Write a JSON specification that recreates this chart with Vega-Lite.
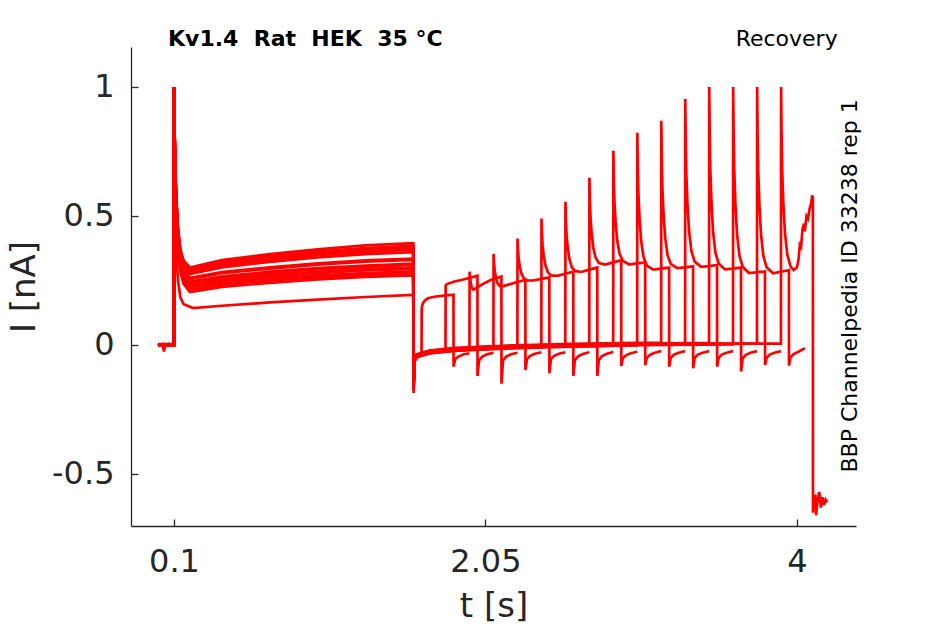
{
  "$schema": "https://vega.github.io/schema/vega-lite/v6.json",
  "width": 725,
  "height": 479,
  "autosize": "none",
  "padding": {"left": 131, "top": 47, "right": 89, "bottom": 98},
  "background": "white",
  "config": {"view": {"stroke": null}, "font": "DejaVu Sans"},
  "data": {"values": [
    {"k":0,"t":0,"v":0.004},{"k":0,"t":0.035,"v":-0.004},{"k":0,"t":0.07,"v":0.002},{"k":0,"t":0.0995,"v":0},
    {"k":0,"t":0.101,"v":1},{"k":0,"t":0.104,"v":0.75},{"k":0,"t":0.108,"v":0.53},{"k":0,"t":0.115,"v":0.36},{"k":0,"t":0.125,"v":0.25},{"k":0,"t":0.14,"v":0.185},{"k":0,"t":0.16,"v":0.158},{"k":0,"t":0.22,"v":0.143},{"k":0,"t":0.4,"v":0.152},{"k":0,"t":0.7,"v":0.165},{"k":0,"t":1.0,"v":0.176},{"k":0,"t":1.3,"v":0.186},{"k":0,"t":1.598,"v":0.194},
    {"k":0,"t":1.6005,"v":-0.13},{"k":0,"t":1.605,"v":-0.06},{"k":0,"t":1.62,"v":-0.042},{"k":0,"t":1.65,"v":-0.036},
    {"k":0,"t":1.651,"v":0.143},{"k":0,"t":1.655,"v":0.155},{"k":0,"t":1.66,"v":0.163},{"k":0,"t":1.67,"v":0.172},{"k":0,"t":1.69,"v":0.181},{"k":0,"t":1.73,"v":0.187},{"k":0,"t":1.79,"v":0.191},{"k":0,"t":1.85,"v":0.195},{"k":0,"t":1.8505,"v":-0.084},{"k":0,"t":1.86,"v":-0.055},{"k":0,"t":1.88,"v":-0.045},{"k":0,"t":1.91,"v":-0.037},{"k":0,"t":1.95,"v":-0.032},

    {"k":1,"t":0,"v":0.002},{"k":1,"t":0.035,"v":0.003},{"k":1,"t":0.07,"v":-0.002},{"k":1,"t":0.0995,"v":0.001},
    {"k":1,"t":0.101,"v":1},{"k":1,"t":0.104,"v":0.811},{"k":1,"t":0.108,"v":0.66},{"k":1,"t":0.115,"v":0.532},{"k":1,"t":0.125,"v":0.411},{"k":1,"t":0.14,"v":0.321},{"k":1,"t":0.16,"v":0.275},{"k":1,"t":0.2,"v":0.245},{"k":1,"t":0.4,"v":0.266},{"k":1,"t":0.7,"v":0.284},{"k":1,"t":1.0,"v":0.298},{"k":1,"t":1.3,"v":0.308},{"k":1,"t":1.598,"v":0.315},
    {"k":1,"t":1.6005,"v":-0.16},{"k":1,"t":1.605,"v":-0.057},{"k":1,"t":1.62,"v":-0.039},{"k":1,"t":1.7,"v":-0.025},{"k":1,"t":1.8,"v":-0.017},
    {"k":1,"t":1.801,"v":0.232},{"k":1,"t":1.81,"v":0.236},{"k":1,"t":1.85,"v":0.245},{"k":1,"t":1.9,"v":0.252},{"k":1,"t":1.95,"v":0.26},{"k":1,"t":2.0,"v":0.268},{"k":1,"t":2.0005,"v":-0.12},{"k":1,"t":2.01,"v":-0.06},{"k":1,"t":2.03,"v":-0.045},{"k":1,"t":2.06,"v":-0.036},{"k":1,"t":2.1,"v":-0.03},

    {"k":2,"t":0,"v":0.003},{"k":2,"t":0.035,"v":-0.002},{"k":2,"t":0.07,"v":0.003},{"k":2,"t":0.0995,"v":0},
    {"k":2,"t":0.101,"v":1},{"k":2,"t":0.104,"v":0.81},{"k":2,"t":0.108,"v":0.658},{"k":2,"t":0.115,"v":0.529},{"k":2,"t":0.125,"v":0.407},{"k":2,"t":0.14,"v":0.316},{"k":2,"t":0.16,"v":0.27},{"k":2,"t":0.2,"v":0.24},{"k":2,"t":0.4,"v":0.261},{"k":2,"t":0.7,"v":0.279},{"k":2,"t":1.0,"v":0.293},{"k":2,"t":1.3,"v":0.303},{"k":2,"t":1.598,"v":0.31},
    {"k":2,"t":1.6005,"v":-0.15},{"k":2,"t":1.605,"v":-0.063},{"k":2,"t":1.62,"v":-0.045},{"k":2,"t":1.7,"v":-0.031},{"k":2,"t":1.85,"v":-0.021},{"k":2,"t":1.95,"v":-0.017},
    {"k":2,"t":1.951,"v":0.284},{"k":2,"t":1.954,"v":0.26},{"k":2,"t":1.958,"v":0.24},{"k":2,"t":1.965,"v":0.222},{"k":2,"t":1.975,"v":0.214},{"k":2,"t":1.99,"v":0.22},{"k":2,"t":2.03,"v":0.235},{"k":2,"t":2.07,"v":0.248},{"k":2,"t":2.1,"v":0.256},{"k":2,"t":2.15,"v":0.265},{"k":2,"t":2.1505,"v":-0.15},{"k":2,"t":2.16,"v":-0.06},{"k":2,"t":2.18,"v":-0.045},{"k":2,"t":2.21,"v":-0.036},{"k":2,"t":2.25,"v":-0.03},

    {"k":3,"t":0,"v":0.001},{"k":3,"t":0.03,"v":0.001},{"k":3,"t":0.037,"v":-0.025},{"k":3,"t":0.044,"v":-0.002},{"k":3,"t":0.07,"v":0.002},{"k":3,"t":0.0995,"v":0},
    {"k":3,"t":0.101,"v":1},{"k":3,"t":0.104,"v":0.815},{"k":3,"t":0.108,"v":0.667},{"k":3,"t":0.115,"v":0.541},{"k":3,"t":0.125,"v":0.423},{"k":3,"t":0.14,"v":0.334},{"k":3,"t":0.16,"v":0.29},{"k":3,"t":0.2,"v":0.26},{"k":3,"t":0.4,"v":0.283},{"k":3,"t":0.7,"v":0.301},{"k":3,"t":1.0,"v":0.316},{"k":3,"t":1.3,"v":0.328},{"k":3,"t":1.598,"v":0.335},
    {"k":3,"t":1.6005,"v":-0.186},{"k":3,"t":1.605,"v":-0.06},{"k":3,"t":1.62,"v":-0.042},{"k":3,"t":1.7,"v":-0.028},{"k":3,"t":1.85,"v":-0.018},{"k":3,"t":2.05,"v":-0.012},{"k":3,"t":2.1,"v":-0.01},
    {"k":3,"t":2.101,"v":0.353},{"k":3,"t":2.104,"v":0.32},{"k":3,"t":2.108,"v":0.29},{"k":3,"t":2.115,"v":0.263},{"k":3,"t":2.125,"v":0.24},{"k":3,"t":2.14,"v":0.228},{"k":3,"t":2.16,"v":0.228},{"k":3,"t":2.2,"v":0.235},{"k":3,"t":2.25,"v":0.244},{"k":3,"t":2.3,"v":0.252},{"k":3,"t":2.3005,"v":-0.097},{"k":3,"t":2.31,"v":-0.055},{"k":3,"t":2.33,"v":-0.042},{"k":3,"t":2.36,"v":-0.034},{"k":3,"t":2.4,"v":-0.028},

    {"k":4,"t":0,"v":-0.002},{"k":4,"t":0.035,"v":0.002},{"k":4,"t":0.07,"v":0.004},{"k":4,"t":0.0995,"v":0},
    {"k":4,"t":0.101,"v":1},{"k":4,"t":0.104,"v":0.814},{"k":4,"t":0.108,"v":0.665},{"k":4,"t":0.115,"v":0.538},{"k":4,"t":0.125,"v":0.419},{"k":4,"t":0.14,"v":0.33},{"k":4,"t":0.16,"v":0.285},{"k":4,"t":0.2,"v":0.255},{"k":4,"t":0.4,"v":0.278},{"k":4,"t":0.7,"v":0.296},{"k":4,"t":1.0,"v":0.311},{"k":4,"t":1.3,"v":0.323},{"k":4,"t":1.598,"v":0.33},
    {"k":4,"t":1.6005,"v":-0.14},{"k":4,"t":1.605,"v":-0.055},{"k":4,"t":1.62,"v":-0.037},{"k":4,"t":1.7,"v":-0.023},{"k":4,"t":1.85,"v":-0.013},{"k":4,"t":2.05,"v":-0.007},{"k":4,"t":2.25,"v":-0.002},
    {"k":4,"t":2.251,"v":0.413},{"k":4,"t":2.254,"v":0.37},{"k":4,"t":2.258,"v":0.335},{"k":4,"t":2.265,"v":0.305},{"k":4,"t":2.275,"v":0.278},{"k":4,"t":2.29,"v":0.258},{"k":4,"t":2.31,"v":0.25},{"k":4,"t":2.35,"v":0.25},{"k":4,"t":2.4,"v":0.256},{"k":4,"t":2.45,"v":0.262},{"k":4,"t":2.4505,"v":-0.11},{"k":4,"t":2.46,"v":-0.055},{"k":4,"t":2.48,"v":-0.042},{"k":4,"t":2.51,"v":-0.034},{"k":4,"t":2.55,"v":-0.028},

    {"k":5,"t":0,"v":0.003},{"k":5,"t":0.035,"v":0},{"k":5,"t":0.07,"v":-0.003},{"k":5,"t":0.0995,"v":0},
    {"k":5,"t":0.101,"v":1},{"k":5,"t":0.104,"v":0.825},{"k":5,"t":0.108,"v":0.685},{"k":5,"t":0.115,"v":0.566},{"k":5,"t":0.125,"v":0.454},{"k":5,"t":0.14,"v":0.37},{"k":5,"t":0.16,"v":0.328},{"k":5,"t":0.2,"v":0.3},{"k":5,"t":0.4,"v":0.329},{"k":5,"t":0.7,"v":0.352},{"k":5,"t":1.0,"v":0.371},{"k":5,"t":1.3,"v":0.386},{"k":5,"t":1.598,"v":0.395},
    {"k":5,"t":1.6005,"v":-0.17},{"k":5,"t":1.605,"v":-0.065},{"k":5,"t":1.62,"v":-0.047},{"k":5,"t":1.7,"v":-0.033},{"k":5,"t":1.85,"v":-0.023},{"k":5,"t":2.05,"v":-0.017},{"k":5,"t":2.3,"v":-0.011},{"k":5,"t":2.4,"v":-0.01},
    {"k":5,"t":2.401,"v":0.49},{"k":5,"t":2.404,"v":0.432},{"k":5,"t":2.408,"v":0.386},{"k":5,"t":2.415,"v":0.347},{"k":5,"t":2.425,"v":0.31},{"k":5,"t":2.44,"v":0.283},{"k":5,"t":2.46,"v":0.27},{"k":5,"t":2.5,"v":0.268},{"k":5,"t":2.55,"v":0.276},{"k":5,"t":2.6,"v":0.284},{"k":5,"t":2.6005,"v":-0.12},{"k":5,"t":2.61,"v":-0.058},{"k":5,"t":2.63,"v":-0.044},{"k":5,"t":2.66,"v":-0.035},{"k":5,"t":2.7,"v":-0.028},

    {"k":6,"t":0,"v":0},{"k":6,"t":0.035,"v":0.003},{"k":6,"t":0.07,"v":0},{"k":6,"t":0.0995,"v":0.002},
    {"k":6,"t":0.101,"v":1},{"k":6,"t":0.104,"v":0.809},{"k":6,"t":0.108,"v":0.656},{"k":6,"t":0.115,"v":0.526},{"k":6,"t":0.125,"v":0.403},{"k":6,"t":0.14,"v":0.312},{"k":6,"t":0.16,"v":0.266},{"k":6,"t":0.2,"v":0.235},{"k":6,"t":0.4,"v":0.255},{"k":6,"t":0.7,"v":0.271},{"k":6,"t":1.0,"v":0.284},{"k":6,"t":1.3,"v":0.294},{"k":6,"t":1.598,"v":0.3},
    {"k":6,"t":1.6005,"v":-0.155},{"k":6,"t":1.605,"v":-0.058},{"k":6,"t":1.62,"v":-0.04},{"k":6,"t":1.7,"v":-0.026},{"k":6,"t":1.85,"v":-0.016},{"k":6,"t":2.05,"v":-0.01},{"k":6,"t":2.3,"v":-0.004},{"k":6,"t":2.55,"v":-0.001},
    {"k":6,"t":2.551,"v":0.555},{"k":6,"t":2.554,"v":0.484},{"k":6,"t":2.558,"v":0.427},{"k":6,"t":2.565,"v":0.38},{"k":6,"t":2.575,"v":0.335},{"k":6,"t":2.59,"v":0.302},{"k":6,"t":2.61,"v":0.287},{"k":6,"t":2.65,"v":0.283},{"k":6,"t":2.7,"v":0.292},{"k":6,"t":2.75,"v":0.3},{"k":6,"t":2.7505,"v":-0.12},{"k":6,"t":2.76,"v":-0.058},{"k":6,"t":2.78,"v":-0.043},{"k":6,"t":2.81,"v":-0.034},{"k":6,"t":2.85,"v":-0.027},

    {"k":7,"t":0,"v":0.002},{"k":7,"t":0.035,"v":-0.003},{"k":7,"t":0.07,"v":0.001},{"k":7,"t":0.0995,"v":0},
    {"k":7,"t":0.101,"v":1},{"k":7,"t":0.104,"v":0.824},{"k":7,"t":0.108,"v":0.683},{"k":7,"t":0.115,"v":0.563},{"k":7,"t":0.125,"v":0.45},{"k":7,"t":0.14,"v":0.366},{"k":7,"t":0.16,"v":0.323},{"k":7,"t":0.2,"v":0.295},{"k":7,"t":0.4,"v":0.322},{"k":7,"t":0.7,"v":0.345},{"k":7,"t":1.0,"v":0.363},{"k":7,"t":1.3,"v":0.376},{"k":7,"t":1.598,"v":0.385},
    {"k":7,"t":1.6005,"v":-0.165},{"k":7,"t":1.605,"v":-0.062},{"k":7,"t":1.62,"v":-0.044},{"k":7,"t":1.7,"v":-0.03},{"k":7,"t":1.85,"v":-0.02},{"k":7,"t":2.05,"v":-0.014},{"k":7,"t":2.3,"v":-0.008},{"k":7,"t":2.6,"v":-0.004},{"k":7,"t":2.7,"v":-0.003},
    {"k":7,"t":2.701,"v":0.648},{"k":7,"t":2.704,"v":0.561},{"k":7,"t":2.708,"v":0.491},{"k":7,"t":2.715,"v":0.433},{"k":7,"t":2.725,"v":0.378},{"k":7,"t":2.74,"v":0.338},{"k":7,"t":2.76,"v":0.318},{"k":7,"t":2.8,"v":0.312},{"k":7,"t":2.85,"v":0.32},{"k":7,"t":2.9,"v":0.328},{"k":7,"t":2.9005,"v":-0.081},{"k":7,"t":2.91,"v":-0.052},{"k":7,"t":2.93,"v":-0.04},{"k":7,"t":2.96,"v":-0.032},{"k":7,"t":3.0,"v":-0.026},

    {"k":8,"t":0,"v":-0.001},{"k":8,"t":0.035,"v":0.002},{"k":8,"t":0.07,"v":0.003},{"k":8,"t":0.0995,"v":0},
    {"k":8,"t":0.101,"v":1},{"k":8,"t":0.104,"v":0.808},{"k":8,"t":0.108,"v":0.654},{"k":8,"t":0.115,"v":0.523},{"k":8,"t":0.125,"v":0.399},{"k":8,"t":0.14,"v":0.307},{"k":8,"t":0.16,"v":0.261},{"k":8,"t":0.2,"v":0.23},{"k":8,"t":0.4,"v":0.25},{"k":8,"t":0.7,"v":0.266},{"k":8,"t":1.0,"v":0.279},{"k":8,"t":1.3,"v":0.289},{"k":8,"t":1.598,"v":0.295},
    {"k":8,"t":1.6005,"v":-0.145},{"k":8,"t":1.605,"v":-0.056},{"k":8,"t":1.62,"v":-0.038},{"k":8,"t":1.7,"v":-0.024},{"k":8,"t":1.85,"v":-0.014},{"k":8,"t":2.05,"v":-0.008},{"k":8,"t":2.3,"v":-0.002},{"k":8,"t":2.6,"v":0.002},{"k":8,"t":2.85,"v":0.004},
    {"k":8,"t":2.851,"v":0.753},{"k":8,"t":2.854,"v":0.641},{"k":8,"t":2.858,"v":0.552},{"k":8,"t":2.865,"v":0.477},{"k":8,"t":2.875,"v":0.405},{"k":8,"t":2.89,"v":0.353},{"k":8,"t":2.91,"v":0.326},{"k":8,"t":2.95,"v":0.312},{"k":8,"t":3.0,"v":0.316},{"k":8,"t":3.05,"v":0.32},{"k":8,"t":3.0505,"v":-0.078},{"k":8,"t":3.06,"v":-0.05},{"k":8,"t":3.08,"v":-0.038},{"k":8,"t":3.11,"v":-0.03},{"k":8,"t":3.15,"v":-0.024},

    {"k":9,"t":0,"v":0.003},{"k":9,"t":0.035,"v":0.001},{"k":9,"t":0.07,"v":-0.002},{"k":9,"t":0.0995,"v":0},
    {"k":9,"t":0.101,"v":1},{"k":9,"t":0.104,"v":0.823},{"k":9,"t":0.108,"v":0.681},{"k":9,"t":0.115,"v":0.56},{"k":9,"t":0.125,"v":0.446},{"k":9,"t":0.14,"v":0.361},{"k":9,"t":0.16,"v":0.318},{"k":9,"t":0.2,"v":0.29},{"k":9,"t":0.4,"v":0.317},{"k":9,"t":0.7,"v":0.34},{"k":9,"t":1.0,"v":0.358},{"k":9,"t":1.3,"v":0.371},{"k":9,"t":1.598,"v":0.38},
    {"k":9,"t":1.6005,"v":-0.175},{"k":9,"t":1.605,"v":-0.064},{"k":9,"t":1.62,"v":-0.046},{"k":9,"t":1.7,"v":-0.032},{"k":9,"t":1.85,"v":-0.022},{"k":9,"t":2.05,"v":-0.016},{"k":9,"t":2.3,"v":-0.01},{"k":9,"t":2.6,"v":-0.006},{"k":9,"t":3.0,"v":-0.002},
    {"k":9,"t":3.001,"v":0.823},{"k":9,"t":3.004,"v":0.689},{"k":9,"t":3.008,"v":0.581},{"k":9,"t":3.015,"v":0.49},{"k":9,"t":3.025,"v":0.404},{"k":9,"t":3.04,"v":0.34},{"k":9,"t":3.06,"v":0.308},{"k":9,"t":3.1,"v":0.292},{"k":9,"t":3.15,"v":0.296},{"k":9,"t":3.2,"v":0.3},{"k":9,"t":3.2005,"v":-0.084},{"k":9,"t":3.21,"v":-0.05},{"k":9,"t":3.23,"v":-0.037},{"k":9,"t":3.26,"v":-0.03},{"k":9,"t":3.3,"v":-0.024},

    {"k":10,"t":0,"v":0.001},{"k":10,"t":0.035,"v":0.004},{"k":10,"t":0.07,"v":0},{"k":10,"t":0.0995,"v":0},
    {"k":10,"t":0.101,"v":1},{"k":10,"t":0.104,"v":0.806},{"k":10,"t":0.108,"v":0.651},{"k":10,"t":0.115,"v":0.52},{"k":10,"t":0.125,"v":0.396},{"k":10,"t":0.14,"v":0.303},{"k":10,"t":0.16,"v":0.256},{"k":10,"t":0.2,"v":0.225},{"k":10,"t":0.4,"v":0.243},{"k":10,"t":0.7,"v":0.258},{"k":10,"t":1.0,"v":0.27},{"k":10,"t":1.3,"v":0.279},{"k":10,"t":1.598,"v":0.285},
    {"k":10,"t":1.6005,"v":-0.15},{"k":10,"t":1.605,"v":-0.054},{"k":10,"t":1.62,"v":-0.036},{"k":10,"t":1.7,"v":-0.022},{"k":10,"t":1.85,"v":-0.012},{"k":10,"t":2.05,"v":-0.006},{"k":10,"t":2.3,"v":0},{"k":10,"t":2.6,"v":0.004},{"k":10,"t":3.0,"v":0.008},{"k":10,"t":3.15,"v":0.009},
    {"k":10,"t":3.151,"v":0.869},{"k":10,"t":3.154,"v":0.724},{"k":10,"t":3.158,"v":0.608},{"k":10,"t":3.165,"v":0.51},{"k":10,"t":3.175,"v":0.418},{"k":10,"t":3.19,"v":0.349},{"k":10,"t":3.21,"v":0.314},{"k":10,"t":3.25,"v":0.298},{"k":10,"t":3.3,"v":0.301},{"k":10,"t":3.35,"v":0.305},{"k":10,"t":3.3505,"v":-0.09},{"k":10,"t":3.36,"v":-0.05},{"k":10,"t":3.38,"v":-0.037},{"k":10,"t":3.41,"v":-0.03},{"k":10,"t":3.45,"v":-0.024},

    {"k":11,"t":0,"v":0.002},{"k":11,"t":0.035,"v":-0.002},{"k":11,"t":0.07,"v":0.002},{"k":11,"t":0.0995,"v":0},
    {"k":11,"t":0.101,"v":1},{"k":11,"t":0.104,"v":0.821},{"k":11,"t":0.108,"v":0.678},{"k":11,"t":0.115,"v":0.557},{"k":11,"t":0.125,"v":0.442},{"k":11,"t":0.14,"v":0.357},{"k":11,"t":0.16,"v":0.314},{"k":11,"t":0.2,"v":0.285},{"k":11,"t":0.4,"v":0.312},{"k":11,"t":0.7,"v":0.335},{"k":11,"t":1.0,"v":0.353},{"k":11,"t":1.3,"v":0.366},{"k":11,"t":1.598,"v":0.375},
    {"k":11,"t":1.6005,"v":-0.16},{"k":11,"t":1.605,"v":-0.061},{"k":11,"t":1.62,"v":-0.043},{"k":11,"t":1.7,"v":-0.029},{"k":11,"t":1.85,"v":-0.019},{"k":11,"t":2.05,"v":-0.013},{"k":11,"t":2.3,"v":-0.007},{"k":11,"t":2.6,"v":-0.003},{"k":11,"t":3.0,"v":0.001},{"k":11,"t":3.3,"v":0.003},
    {"k":11,"t":3.301,"v":0.953},{"k":11,"t":3.304,"v":0.789},{"k":11,"t":3.308,"v":0.657},{"k":11,"t":3.315,"v":0.545},{"k":11,"t":3.325,"v":0.44},{"k":11,"t":3.34,"v":0.363},{"k":11,"t":3.36,"v":0.323},{"k":11,"t":3.4,"v":0.303},{"k":11,"t":3.45,"v":0.306},{"k":11,"t":3.5,"v":0.31},{"k":11,"t":3.5005,"v":-0.084},{"k":11,"t":3.51,"v":-0.05},{"k":11,"t":3.53,"v":-0.037},{"k":11,"t":3.56,"v":-0.03},{"k":11,"t":3.6,"v":-0.024},

    {"k":12,"t":0,"v":0},{"k":12,"t":0.035,"v":0.002},{"k":12,"t":0.07,"v":-0.001},{"k":12,"t":0.0995,"v":0},
    {"k":12,"t":0.101,"v":1},{"k":12,"t":0.104,"v":0.804},{"k":12,"t":0.108,"v":0.647},{"k":12,"t":0.115,"v":0.513},{"k":12,"t":0.125,"v":0.388},{"k":12,"t":0.14,"v":0.294},{"k":12,"t":0.16,"v":0.246},{"k":12,"t":0.2,"v":0.215},{"k":12,"t":0.4,"v":0.234},{"k":12,"t":0.7,"v":0.25},{"k":12,"t":1.0,"v":0.262},{"k":12,"t":1.3,"v":0.272},{"k":12,"t":1.598,"v":0.278},
    {"k":12,"t":1.6005,"v":-0.14},{"k":12,"t":1.605,"v":-0.057},{"k":12,"t":1.62,"v":-0.039},{"k":12,"t":1.7,"v":-0.025},{"k":12,"t":1.85,"v":-0.015},{"k":12,"t":2.05,"v":-0.009},{"k":12,"t":2.3,"v":-0.003},{"k":12,"t":2.6,"v":0.001},{"k":12,"t":3.0,"v":0.005},{"k":12,"t":3.4,"v":0.007},{"k":12,"t":3.45,"v":0.007},
    {"k":12,"t":3.451,"v":1.0},{"k":12,"t":3.454,"v":0.821},{"k":12,"t":3.458,"v":0.678},{"k":12,"t":3.465,"v":0.557},{"k":12,"t":3.475,"v":0.44},{"k":12,"t":3.49,"v":0.358},{"k":12,"t":3.51,"v":0.316},{"k":12,"t":3.55,"v":0.293},{"k":12,"t":3.6,"v":0.296},{"k":12,"t":3.65,"v":0.3},{"k":12,"t":3.6505,"v":-0.103},{"k":12,"t":3.66,"v":-0.052},{"k":12,"t":3.68,"v":-0.038},{"k":12,"t":3.71,"v":-0.03},{"k":12,"t":3.75,"v":-0.024},

    {"k":13,"t":0,"v":0.003},{"k":13,"t":0.035,"v":-0.001},{"k":13,"t":0.07,"v":0.001},{"k":13,"t":0.0995,"v":0},
    {"k":13,"t":0.101,"v":1},{"k":13,"t":0.104,"v":0.82},{"k":13,"t":0.108,"v":0.676},{"k":13,"t":0.115,"v":0.554},{"k":13,"t":0.125,"v":0.438},{"k":13,"t":0.14,"v":0.352},{"k":13,"t":0.16,"v":0.309},{"k":13,"t":0.2,"v":0.28},{"k":13,"t":0.4,"v":0.307},{"k":13,"t":0.7,"v":0.33},{"k":13,"t":1.0,"v":0.348},{"k":13,"t":1.3,"v":0.361},{"k":13,"t":1.598,"v":0.37},
    {"k":13,"t":1.6005,"v":-0.168},{"k":13,"t":1.605,"v":-0.063},{"k":13,"t":1.62,"v":-0.045},{"k":13,"t":1.7,"v":-0.031},{"k":13,"t":1.85,"v":-0.021},{"k":13,"t":2.05,"v":-0.015},{"k":13,"t":2.3,"v":-0.009},{"k":13,"t":2.6,"v":-0.005},{"k":13,"t":3.0,"v":-0.001},{"k":13,"t":3.4,"v":0.001},{"k":13,"t":3.6,"v":0.002},
    {"k":13,"t":3.601,"v":1.0},{"k":13,"t":3.604,"v":0.818},{"k":13,"t":3.608,"v":0.673},{"k":13,"t":3.615,"v":0.549},{"k":13,"t":3.625,"v":0.432},{"k":13,"t":3.64,"v":0.347},{"k":13,"t":3.66,"v":0.303},{"k":13,"t":3.7,"v":0.279},{"k":13,"t":3.75,"v":0.282},{"k":13,"t":3.8,"v":0.285},{"k":13,"t":3.8005,"v":-0.078},{"k":13,"t":3.81,"v":-0.05},{"k":13,"t":3.83,"v":-0.037},{"k":13,"t":3.86,"v":-0.03},{"k":13,"t":3.9,"v":-0.024},

    {"k":14,"t":0,"v":0.001},{"k":14,"t":0.035,"v":0.001},{"k":14,"t":0.07,"v":0.003},{"k":14,"t":0.0995,"v":0},
    {"k":14,"t":0.101,"v":1},{"k":14,"t":0.104,"v":0.801},{"k":14,"t":0.108,"v":0.642},{"k":14,"t":0.115,"v":0.507},{"k":14,"t":0.125,"v":0.38},{"k":14,"t":0.14,"v":0.285},{"k":14,"t":0.16,"v":0.237},{"k":14,"t":0.2,"v":0.205},{"k":14,"t":0.4,"v":0.225},{"k":14,"t":0.7,"v":0.241},{"k":14,"t":1.0,"v":0.254},{"k":14,"t":1.3,"v":0.264},{"k":14,"t":1.598,"v":0.27},
    {"k":14,"t":1.6005,"v":-0.135},{"k":14,"t":1.605,"v":-0.059},{"k":14,"t":1.62,"v":-0.041},{"k":14,"t":1.7,"v":-0.027},{"k":14,"t":1.85,"v":-0.017},{"k":14,"t":2.05,"v":-0.011},{"k":14,"t":2.3,"v":-0.005},{"k":14,"t":2.6,"v":-0.001},{"k":14,"t":3.0,"v":0.003},{"k":14,"t":3.4,"v":0.005},{"k":14,"t":3.75,"v":0.006},
    {"k":14,"t":3.751,"v":1.0},{"k":14,"t":3.754,"v":0.818},{"k":14,"t":3.758,"v":0.672},{"k":14,"t":3.765,"v":0.548},{"k":14,"t":3.775,"v":0.431},{"k":14,"t":3.79,"v":0.345},{"k":14,"t":3.81,"v":0.301},{"k":14,"t":3.85,"v":0.278},{"k":14,"t":3.9,"v":0.284},{"k":14,"t":3.95,"v":0.29},{"k":14,"t":3.9505,"v":-0.08},{"k":14,"t":3.96,"v":-0.048},{"k":14,"t":3.98,"v":-0.035},{"k":14,"t":4.01,"v":-0.026},{"k":14,"t":4.05,"v":-0.012},

    {"k":15,"t":0,"v":-0.001},{"k":15,"t":0.035,"v":0.002},{"k":15,"t":0.07,"v":0},{"k":15,"t":0.0995,"v":0},
    {"k":15,"t":0.101,"v":1},{"k":15,"t":0.104,"v":0.819},{"k":15,"t":0.108,"v":0.674},{"k":15,"t":0.115,"v":0.551},{"k":15,"t":0.125,"v":0.435},{"k":15,"t":0.14,"v":0.348},{"k":15,"t":0.16,"v":0.304},{"k":15,"t":0.2,"v":0.275},{"k":15,"t":0.4,"v":0.301},{"k":15,"t":0.7,"v":0.322},{"k":15,"t":1.0,"v":0.339},{"k":15,"t":1.3,"v":0.352},{"k":15,"t":1.598,"v":0.36},
    {"k":15,"t":1.6005,"v":-0.158},{"k":15,"t":1.605,"v":-0.06},{"k":15,"t":1.62,"v":-0.042},{"k":15,"t":1.7,"v":-0.028},{"k":15,"t":1.85,"v":-0.018},{"k":15,"t":2.05,"v":-0.012},{"k":15,"t":2.3,"v":-0.006},{"k":15,"t":2.6,"v":-0.002},{"k":15,"t":3.0,"v":0.002},{"k":15,"t":3.4,"v":0.004},{"k":15,"t":3.8,"v":0.005},{"k":15,"t":3.9,"v":0.005},
    {"k":15,"t":3.901,"v":1.0},{"k":15,"t":3.904,"v":0.82},{"k":15,"t":3.908,"v":0.675},{"k":15,"t":3.915,"v":0.55},{"k":15,"t":3.925,"v":0.435},{"k":15,"t":3.94,"v":0.35},{"k":15,"t":3.96,"v":0.305},{"k":15,"t":3.98,"v":0.29},{"k":15,"t":4.0,"v":0.3},{"k":15,"t":4.01,"v":0.33},{"k":15,"t":4.02,"v":0.4},{"k":15,"t":4.025,"v":0.37},{"k":15,"t":4.035,"v":0.45},{"k":15,"t":4.045,"v":0.47},{"k":15,"t":4.05,"v":0.44},{"k":15,"t":4.06,"v":0.5},{"k":15,"t":4.07,"v":0.49},{"k":15,"t":4.08,"v":0.53},{"k":15,"t":4.09,"v":0.55},{"k":15,"t":4.095,"v":0.58},{"k":15,"t":4.1,"v":0.57},{"k":15,"t":4.1005,"v":-0.65},{"k":15,"t":4.105,"v":-0.6},{"k":15,"t":4.11,"v":-0.64},{"k":15,"t":4.115,"v":-0.58},{"k":15,"t":4.12,"v":-0.66},{"k":15,"t":4.13,"v":-0.6},{"k":15,"t":4.14,"v":-0.57},{"k":15,"t":4.15,"v":-0.63},{"k":15,"t":4.16,"v":-0.59},{"k":15,"t":4.17,"v":-0.62},{"k":15,"t":4.18,"v":-0.6},{"k":15,"t":4.19,"v":-0.61}
  ]},
  "layer": [
    {
      "mark": {"type": "line", "color": "#ff0000", "strokeWidth": 2.7, "clip": true},
      "encoding": {
        "x": {
          "field": "t",
          "type": "quantitative",
          "scale": {"domain": [-0.169, 4.37], "nice": false, "zero": false},
          "axis": {
            "values": [0.1, 2.05, 4],
            "labelExpr": "format(datum.value, '~g')",
            "title": "t [s]",
            "grid": false,
            "labelFont": "DejaVu Sans",
            "labelFontSize": 32,
            "labelColor": "#262626",
            "labelPadding": 27,
            "labelFlush": false,
            "titleFont": "DejaVu Sans",
            "titleFontSize": 34,
            "titleFontWeight": "normal",
            "titleColor": "#262626",
            "titlePadding": 12,
            "domainColor": "#262626",
            "domainWidth": 1.3,
            "tickColor": "#262626",
            "tickWidth": 1.3,
            "tickSize": -7
          }
        },
        "y": {
          "field": "v",
          "type": "quantitative",
          "scale": {"domain": [-0.7016, 1.155], "nice": false, "zero": false},
          "axis": {
            "values": [-0.5, 0, 0.5, 1],
            "labelExpr": "replace(format(datum.value, '~g'), '\u2212', '-')",
            "title": "I [nA]",
            "grid": false,
            "labelFont": "DejaVu Sans",
            "labelFontSize": 32,
            "labelColor": "#262626",
            "labelPadding": 24,
            "labelFlush": false,
            "titleFont": "DejaVu Sans",
            "titleFontSize": 34,
            "titleFontWeight": "normal",
            "titleColor": "#262626",
            "titlePadding": 10,
            "domainColor": "#262626",
            "domainWidth": 1.3,
            "tickColor": "#262626",
            "tickWidth": 1.3,
            "tickSize": -7
          }
        },
        "detail": {"field": "k", "type": "nominal"}
      }
    },
    {
      "data": {"values": [{"label": "Kv1.4\u00a0\u00a0Rat\u00a0\u00a0HEK\u00a0\u00a035 °C"}]},
      "mark": {"type": "text", "align": "left", "baseline": "middle", "font": "DejaVu Sans", "fontSize": 22, "fontWeight": "bold", "color": "#000000"},
      "encoding": {"x": {"datum": 0.063}, "y": {"datum": 1.186}, "text": {"field": "label"}}
    },
    {
      "data": {"values": [{"label": "Recovery"}]},
      "mark": {"type": "text", "align": "center", "baseline": "middle", "font": "DejaVu Sans", "fontSize": 22, "color": "#000000"},
      "encoding": {"x": {"datum": 3.936}, "y": {"datum": 1.187}, "text": {"field": "label"}}
    },
    {
      "data": {"values": [{"label": "BBP Channelpedia ID 33238 rep 1"}]},
      "mark": {"type": "text", "align": "center", "baseline": "middle", "angle": 270, "font": "DejaVu Sans", "fontSize": 22, "color": "#000000"},
      "encoding": {"x": {"datum": 4.333}, "y": {"datum": 0.229}, "text": {"field": "label"}}
    }
  ]
}
